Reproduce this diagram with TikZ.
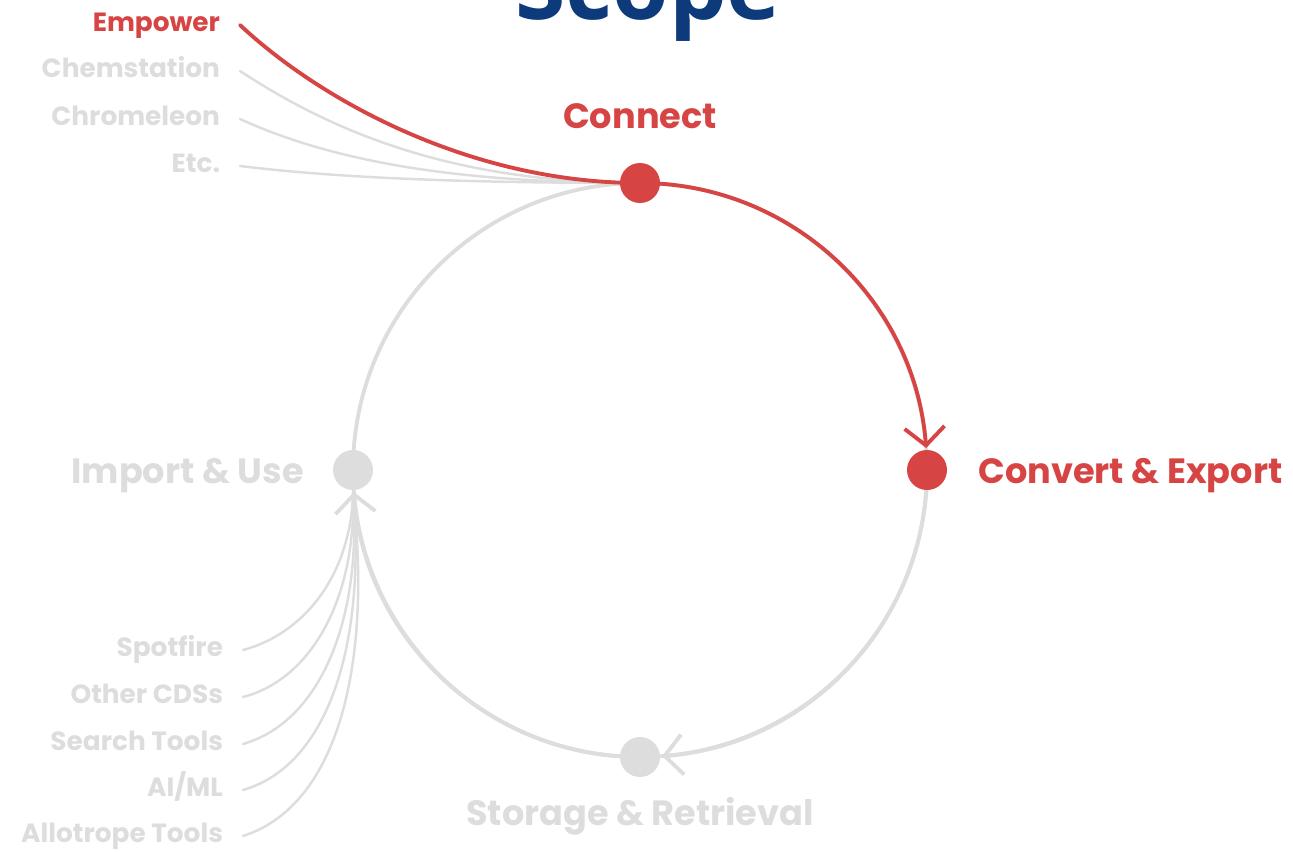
\documentclass[tikz,border=0pt]{standalone}
\usepackage{fontspec}
\setmainfont{Poppins}
\newfontfamily\titlefont{Open Sans}
\usetikzlibrary{arrows.meta}
\definecolor{scred}{RGB}{214,68,68}
\definecolor{scgray}{RGB}{221,221,221}
\definecolor{scblue}{RGB}{12,58,122}
\begin{document}
\begin{tikzpicture}[x=0.02cm, y=0.02cm, line join=round, line cap=round,
	>={Straight Barb[length=3.6mm,width=8mm]},
	dot/.style={circle, fill=#1, inner sep=0pt, minimum size=0.8cm},
	big/.style={inner sep=0pt, text height=0.7em, text depth=0pt, font=\fontsize{20}{24}\selectfont\bfseries},
	small/.style={inner sep=0pt, outer xsep=0.4cm, anchor=east, text=scgray, text height=0.7em, text depth=0pt, font=\fontsize{15}{18}\selectfont\bfseries}]
	%Gán số liệu.
	\def\r{287}
	%Khung hình.
	\useasboundingbox (0,0) rectangle (1293,-851);
	\clip (0,0) rectangle (1293,-851);
	%Gán tọa độ.
	\coordinate (O) at (640,-470);
	\coordinate (A) at (640,-183);
	\coordinate (B) at (927,-470);
	\coordinate (C) at (640,-757);
	\coordinate (D) at (353,-470);
	\coordinate (E) at (353,-494);
	%Tiêu đề.
	\node[anchor=base, text=scblue, inner sep=0pt, font=\fontsize{52}{60}\selectfont\titlefont\bfseries] (title) at (648,-20) {Scope};
	%Vòng tròn.
	\draw[scgray, line width=2.2pt] (O) circle[radius=\r];
	\draw[scgray, line width=2.2pt, ->] (B) arc[start angle=0, end angle=-85.6, radius=\r];
	%Nhãn bên trái, phía trên.
	\node[small, text=scred] (emp) at (240,-25) {Empower};
	\node[small] (chem) at (240,-71) {Chemstation};
	\node[small] (chrom) at (240,-119) {Chromeleon};
	\node[small] (etc) at (240,-166) {Etc.};
	\draw[scgray, line width=1.4pt] (chem.east) .. controls (330,-130) and (450,-183) .. (A);
	\draw[scgray, line width=1.4pt] (chrom.east) .. controls (330,-160) and (450,-183) .. (A);
	\draw[scgray, line width=1.4pt] (etc.east) .. controls (330,-177) and (450,-183) .. (A);
	\draw[scred, line width=2.2pt] (emp.east) .. controls (320,-100) and (470,-183) .. (A);
	%Nhãn bên trái, phía dưới.
	\node[small] (spot) at (243,-650) {Spotfire};
	\node[small] (cds) at (243,-697) {Other CDSs};
	\node[small] (search) at (243,-744) {Search Tools};
	\node[small] (aiml) at (243,-790) {AI/ML};
	\node[small] (allo) at (243,-836) {Allotrope Tools};
	\draw[scgray, line width=1.4pt] (spot.east) .. controls (300,-635) and (350,-580) .. (E);
	\draw[scgray, line width=1.4pt] (cds.east) .. controls (310,-680) and (356,-600) .. (E);
	\draw[scgray, line width=1.4pt] (search.east) .. controls (320,-722) and (362,-620) .. (E);
	\draw[scgray, line width=1.4pt] (aiml.east) .. controls (330,-765) and (366,-640) .. (E);
	\draw[scgray, line width=1.4pt] (allo.east) .. controls (340,-805) and (372,-660) .. (E);
	\draw[scgray, line width=2.2pt, ->] (C) arc[start angle=-90, end angle=-175.6, radius=\r];
	%Cung đỏ.
	\draw[scred, line width=2.2pt, ->] (A) arc[start angle=90, end angle=4.4, radius=\r];
	%Các điểm.
	\node[dot=scred] (connect) at (A) {};
	\node[dot=scred] (convert) at (B) {};
	\node[dot=scgray] (storage) at (C) {};
	\node[dot=scgray] (import) at (D) {};
	\node[big, text=scred] (lconnect) at (640,-122) {Connect};
	\node[big, text=scred, anchor=west] (lconvert) at (978,-477) {Convert \& Export};
	\node[big, text=scgray, anchor=east] (limport) at (304,-477) {Import \& Use};
	\node[big, text=scgray] (lstorage) at (640,-819) {Storage \& Retrieval};
\end{tikzpicture}
\end{document}
